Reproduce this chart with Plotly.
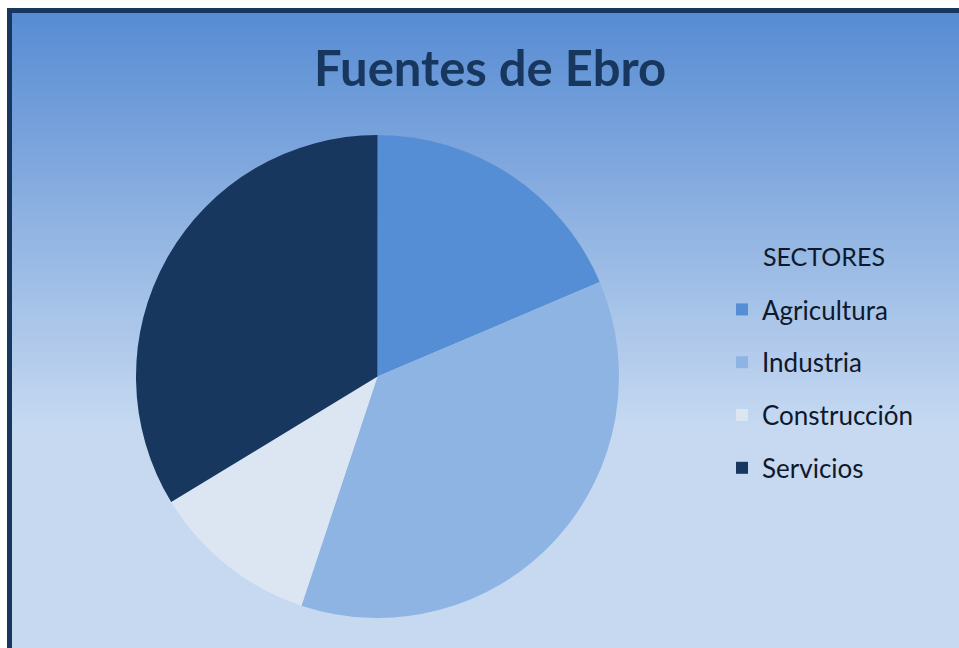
import plotly.graph_objects as go

# Sector shares (percent of employment)
sectores = ["Agricultura", "Industria", "Construcción", "Servicios"]
porcentajes = [18.6, 36.5, 11.2, 33.7]
colores = ["#558ed5", "#8eb4e3", "#dce6f2", "#17375e"]

W, H = 959, 648


def px_x(x):
    return x / W


def px_y(y):
    return 1 - y / H


def mix(c0, c1, t):
    a = [int(c0[i:i + 2], 16) for i in (1, 3, 5)]
    b = [int(c1[i:i + 2], 16) for i in (1, 3, 5)]
    return "#%02x%02x%02x" % tuple(round(a[k] + (b[k] - a[k]) * t) for k in range(3))


fig = go.Figure()

fig.add_trace(go.Pie(
    labels=sectores,
    values=porcentajes,
    marker=dict(colors=colores, line=dict(width=0)),
    sort=False,
    direction="clockwise",
    rotation=0,
    textinfo="none",
    showlegend=False,
    domain=dict(x=[px_x(136), px_x(619)], y=[px_y(618), px_y(135)]),
))

# Legend entries, one group per sector so the spacing can be set
for i, (nombre, color) in enumerate(zip(sectores, colores)):
    fig.add_trace(go.Scatter(
        x=[None], y=[None], mode="markers", name=nombre,
        legendgroup=f"g{i}",
        marker=dict(symbol="square", size=12, color=color),
        hoverinfo="skip",
    ))

# Vertical background gradient
shapes = []
top, stop = 13, 430
c_top, c_bot = "#588cd3", "#c6d9f1"
n = 80
step = (stop - top) / n
for k in range(n):
    y0 = top + k * step
    y1 = y0 + step + 0.8
    shapes.append(dict(
        type="rect", xref="paper", yref="paper", layer="below",
        x0=px_x(12), x1=1.0, y0=px_y(y1), y1=px_y(y0),
        fillcolor=mix(c_top, c_bot, k / (n - 1)), line=dict(width=0),
    ))
shapes.append(dict(
    type="rect", xref="paper", yref="paper", layer="below",
    x0=px_x(12), x1=1.0, y0=0, y1=px_y(stop),
    fillcolor=c_bot, line=dict(width=0),
))
# Dark frame
shapes.append(dict(
    type="rect", xref="paper", yref="paper", layer="below",
    x0=px_x(9.5), x1=1.05, y0=-0.05, y1=px_y(10.5),
    fillcolor="rgba(0,0,0,0)", line=dict(color="#17375e", width=5),
))

fig.update_layout(
    width=W, height=H,
    margin=dict(l=0, r=0, t=0, b=0),
    paper_bgcolor="white",
    plot_bgcolor="rgba(0,0,0,0)",
    xaxis=dict(visible=False),
    yaxis=dict(visible=False),
    shapes=shapes,
    font=dict(family="Lato, sans-serif", color="#10182b"),
    annotations=[
        dict(text="<b>Fuentes de Ebro</b>", xref="paper", yref="paper",
             x=px_x(490), y=px_y(67), xanchor="center", yanchor="middle",
             showarrow=False, font=dict(size=49, color="#17375e")),
        dict(text="SECTORES", xref="paper", yref="paper",
             x=px_x(761), y=px_y(256), xanchor="left", yanchor="middle",
             showarrow=False, font=dict(size=25, color="#10182b")),
    ],
    legend=dict(
        x=px_x(722), y=px_y(286), xanchor="left", yanchor="top",
        bgcolor="rgba(0,0,0,0)",
        font=dict(size=26, color="#10182b"),
        tracegroupgap=16,
        itemsizing="constant",
    ),
)

fig.write_html("out.html")
